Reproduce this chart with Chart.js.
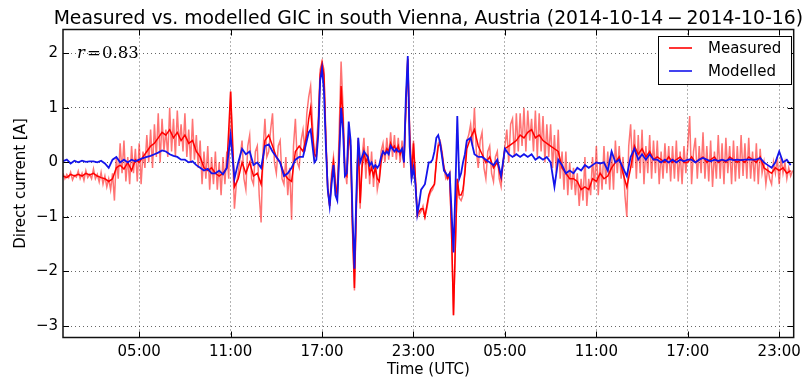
<!DOCTYPE html>
<html>
<head>
<meta charset="utf-8">
<script src="https://cdn.jsdelivr.net/npm/chart.js@4.4.1/dist/chart.umd.min.js"></script>
<style>
  html, body { margin: 0; background: #fff; }
  canvas { display: block; }
</style>
</head>
<body>
<canvas id="gic" width="807" height="382"></canvas>
<script>
// sampling grids (hours since 2014-10-14 00:00 UTC): [start, end, step]
const gridSegments = [[0, 15.75, 0.25], [16, 26.375, 0.125], [26.5, 47.75, 0.25]];
const rawGridSegments = [[0, 47.875, 0.125]];

const xTickHours = [5, 11, 17, 23, 29, 35, 41, 47];
const yTickValues = [-3, -2, -1, 0, 1, 2];

// smoothed measured GIC [A]
const measured = [
  -0.25,-0.28,-0.22,-0.25, -0.22,-0.25,-0.2,-0.23, -0.2,-0.25,-0.28,-0.3, -0.35,-0.3,-0.1,-0.05,
  -0.12,0.0,-0.15,0.05, 0.0,0.1,0.2,0.3, 0.35,0.45,0.55,0.5, 0.6,0.45,0.55,0.4,
  0.5,0.35,0.4,0.2, 0.1,-0.1,-0.15,-0.1, -0.2,-0.25,-0.2,-0.1, 1.3,-0.45,-0.3,0.0,
  -0.2,0.0,-0.25,-0.2, -0.4,0.4,0.5,0.3, 0.1,0.0,-0.2,-0.3, -0.35,0.2,0.3,0.2,
  // 16h - 26.375h
  0.5,0.8,1.0,0.5,0.15,0.1,0.6,1.6,
  1.82,1.6,0.4,-0.5,-0.8,-0.3,0.0,-0.4,
  -0.6,0.2,1.4,0.8,-0.2,-0.25,0.5,0.3,
  -1.2,-2.3,-0.8,0.4,-0.75,-0.1,0.2,0.0,
  0.1,-0.2,-0.1,-0.25,-0.1,-0.3,-0.35,0.0,
  0.2,0.15,0.25,0.2,0.35,0.25,0.3,0.2,
  0.3,0.15,0.25,0.0,1.0,1.9,0.5,-0.3,
  0.35,-0.3,-0.95,-0.9,-0.85,-0.85,-1.0,-0.8,
  -0.6,-0.5,-0.45,-0.4,0.0,0.3,0.35,0.15,
  -0.1,-0.2,-0.3,-0.2,-1.3,-2.8,-1.5,-0.3,
  -0.6,-0.6,-0.5,-0.2,
  // 26.5h - 47.75h
  0.25,0.45,0.6,0.3, 0.15,0.0,0.1,-0.1, 0.0,-0.3,0.25,0.3, 0.35,0.4,0.5,0.45,
  0.55,0.6,0.45,0.5, 0.4,0.35,0.3,0.25, 0.2,-0.1,-0.2,-0.3, -0.3,-0.35,-0.5,-0.45,
  -0.5,-0.3,-0.35,-0.2, -0.3,-0.25,-0.1,0.0, 0.1,-0.2,-0.45,-0.1, 0.3,0.15,0.25,0.1,
  0.2,0.05,0.1,0.05, 0.0,0.1,0.0,0.05, 0.1,0.0,0.0,0.1, 0.0,0.05,0.1,0.0,
  0.05,0.1,0.0,0.05, 0.0,0.1,0.05,0.0, 0.05,0.0,0.1,0.05, 0.0,0.1,-0.1,-0.15,
  -0.2,-0.1,-0.15,-0.1, -0.2,-0.15
];

// modelled GIC [A]
const modelled = [
  0.02,0.05,-0.02,0.03, 0.0,0.03,0.01,0.02, 0.02,0.0,0.03,-0.02, -0.1,0.05,0.1,0.0,
  0.05,0.0,0.05,0.02, 0.05,0.08,0.1,0.12, 0.15,0.18,0.22,0.2, 0.15,0.12,0.1,0.05,
  0.05,0.0,0.02,-0.05, -0.1,-0.15,-0.12,-0.2, -0.2,-0.15,-0.22,-0.1, 0.5,-0.3,0.0,0.25,
  0.15,0.2,-0.05,0.0, -0.1,0.3,0.33,0.2, 0.1,0.0,-0.25,-0.2, -0.1,0.05,0.1,0.1,
  0.4,0.55,0.6,0.3,0.0,0.05,0.5,1.5,
  1.72,1.3,0.3,-0.5,-0.8,-0.4,-0.05,-0.6,
  -0.7,0.1,1.0,0.6,-0.25,-0.2,0.75,0.4,
  -1.0,-1.95,-0.6,0.45,0.0,0.1,0.2,0.15,
  0.1,-0.05,0.0,-0.1,-0.05,-0.1,-0.05,0.1,
  0.2,0.15,0.2,0.15,0.3,0.25,0.2,0.25,
  0.2,0.2,0.25,0.0,1.2,1.95,0.3,-0.3,
  -0.1,-0.4,-0.95,-0.75,-0.5,-0.45,-0.4,-0.2,
  0.0,0.0,0.05,0.2,0.45,0.5,0.35,0.1,
  -0.15,-0.2,-0.25,-0.2,-0.9,-1.65,-0.5,0.85,
  -0.3,-0.2,0.0,0.15,
  0.4,0.45,0.15,0.1, 0.1,0.05,0.0,-0.05, 0.05,-0.25,0.25,0.15, 0.1,0.15,0.1,0.15,
  0.1,0.15,0.05,0.1, 0.05,0.1,0.0,-0.45, 0.05,-0.05,-0.2,-0.15, -0.2,-0.1,-0.15,-0.05,
  -0.1,-0.05,0.0,-0.02, 0.0,-0.15,0.2,0.0, 0.05,-0.1,-0.25,0.1, 0.25,0.05,0.15,0.05,
  0.15,0.05,0.05,0.0, 0.05,0.0,0.05,0.0, 0.05,0.02,0.05,0.05, 0.0,0.05,0.08,0.05,
  0.02,0.05,0.03,0.05, 0.03,0.06,0.04,0.05, 0.04,0.05,0.05,0.05, 0.05,0.08,0.0,-0.05,
  -0.1,0.0,0.2,0.0, 0.05,-0.05
];

// raw measured GIC [A], 7.5 min samples
const measuredRaw = [
  -0.2,-0.3,-0.22,-0.28,-0.18,-0.32,-0.24,-0.27,
  -0.16,-0.3,-0.2,-0.33,-0.15,-0.28,-0.22,-0.3,
  -0.12,-0.3,-0.22,-0.36,-0.18,-0.4,-0.25,-0.45,
  -0.3,-0.5,-0.2,-0.7,0.1,-0.3,0.35,-0.2,
  0.4,-0.35,0.1,-0.4,0.3,-0.2,0.25,-0.35,
  0.35,-0.4,0.2,-0.1,0.5,0.0,0.6,-0.1,
  0.7,0.1,0.9,0.0,0.8,0.2,0.6,0.1,
  1.0,0.2,0.8,0.1,0.95,0.3,0.7,0.2,
  0.9,0.1,0.6,0.0,0.8,0.05,0.5,-0.1,
  0.4,-0.4,0.2,-0.3,0.3,-0.5,0.1,-0.4,
  0.2,-0.5,0.0,-0.6,0.1,-0.4,0.2,-0.3,
  1.3,0.2,-0.85,-0.4,-0.2,0.1,0.4,-0.3,
  -0.5,0.3,0.5,-0.3,-0.4,0.2,0.3,-0.6,
  -1.1,0.2,0.8,0.1,0.2,0.6,0.9,0.0,
  -0.2,0.3,0.4,-0.3,-0.4,0.1,-0.6,-0.1,
  -1.05,0.3,0.8,0.0,-0.1,0.4,0.6,0.2,
  0.9,1.2,1.4,0.7,0.1,0.3,0.8,1.7,
  1.85,1.7,0.5,-0.5,-0.8,-0.2,0.1,-0.3,
  -0.65,0.6,1.85,1.0,-0.1,-0.4,0.5,0.2,
  -1.3,-2.35,-0.9,0.45,-0.85,0.1,0.45,-0.3,
  0.3,-0.4,0.2,-0.45,0.05,-0.5,-0.3,0.2,
  0.35,0.0,0.45,0.05,0.55,0.1,0.5,0.05,
  0.45,0.0,0.4,-0.1,1.0,1.9,0.6,-0.2,
  0.4,-0.3,-1.0,-0.95,-0.9,-0.8,-1.0,-0.85,
  -0.65,-0.55,-0.5,-0.4,0.05,0.35,0.4,0.2,
  -0.1,-0.3,-0.25,-0.3,-1.3,-2.8,-1.5,-0.3,
  -0.65,-0.7,-0.6,-0.1,0.4,0.5,0.7,0.3,
  1.0,0.2,-0.1,0.4,0.55,-0.1,-0.3,0.2,
  0.3,-0.2,-0.35,0.1,0.2,-0.3,-0.45,0.0,
  0.3,0.6,0.0,0.7,0.8,0.1,0.9,0.2,
  0.9,0.3,1.0,0.2,0.95,0.4,0.8,0.2,
  0.95,0.1,0.9,0.2,0.85,0.0,0.7,0.1,
  0.7,-0.1,0.5,-0.2,0.6,-0.3,0.2,-0.5,
  0.2,-0.6,0.0,-0.5,-0.1,-0.6,-0.2,-0.8,
  -0.3,-0.7,0.1,-0.8,-0.3,-0.6,0.1,-0.5,
  0.3,-0.6,0.0,-0.5,0.3,-0.4,0.2,-0.5,
  0.2,-0.5,0.4,-0.2,0.3,-0.3,0.1,-0.6,
  -1.0,0.3,0.7,-0.1,0.6,-0.3,0.5,-0.2,
  0.6,-0.4,0.3,-0.2,0.5,-0.3,0.4,-0.2,
  0.4,-0.4,0.2,-0.3,0.35,-0.2,0.3,-0.35,
  0.3,-0.3,0.4,-0.35,0.2,-0.4,0.3,-0.2,
  0.3,0.85,-0.4,0.2,0.45,-0.3,0.3,-0.2,
  0.55,-0.3,0.3,-0.35,0.4,-0.45,0.2,-0.3,
  0.5,-0.3,0.35,-0.4,0.45,-0.2,0.3,-0.4,
  0.4,-0.35,0.3,-0.3,0.5,-0.25,0.35,-0.3,
  0.45,-0.3,0.2,-0.35,0.35,-0.4,0.25,-0.2,
  0.0,-0.4,-0.1,-0.3,-0.4,0.0,-0.2,0.1,
  -0.4,0.1,-0.2,0.0,-0.3,-0.1,-0.25,-0.15
];

const buildGrid = (segments) => {
  const out = [];
  segments.forEach(([start, end, step]) => {
    for (let k = 0; start + k * step <= end + 1e-9; k++) out.push(start + k * step);
  });
  return out;
};
const hours = buildGrid(gridSegments);
const rawHours = buildGrid(rawGridSegments);
if (hours.length !== measured.length || hours.length !== modelled.length || rawHours.length !== measuredRaw.length) {
  console.error('length mismatch', hours.length, measured.length, modelled.length, rawHours.length, measuredRaw.length);
}

const toPoints = (values, xs) => values.map((v, i) => ({ x: xs[i], y: v }));
const fmtHour = (h) => String(h % 24).padStart(2, '0') + ':00';
const fmtNum = (v) => (v < 0 ? '\u2212' + Math.abs(v) : String(v));

Chart.defaults.font.family = '"DejaVu Sans", sans-serif';
Chart.defaults.color = '#000';

const decor = {
  id: 'decor',
  afterDraw(chart) {
    const { ctx, chartArea: a, scales: { x, y } } = chart;
    ctx.save();

    // inward ticks
    ctx.strokeStyle = '#000';
    ctx.lineWidth = 1;
    ctx.beginPath();
    xTickHours.forEach(h => {
      const px = Math.round(x.getPixelForValue(h)) + 0.5;
      ctx.moveTo(px, a.bottom); ctx.lineTo(px, a.bottom - 6);
      ctx.moveTo(px, a.top); ctx.lineTo(px, a.top + 6);
    });
    yTickValues.forEach(v => {
      const py = Math.round(y.getPixelForValue(v)) + 0.5;
      ctx.moveTo(a.left, py); ctx.lineTo(a.left + 6, py);
      ctx.moveTo(a.right, py); ctx.lineTo(a.right - 6, py);
    });
    ctx.stroke();

    // frame
    ctx.lineWidth = 1.5;
    ctx.strokeStyle = '#111';
    ctx.strokeRect(a.left, a.top, a.right - a.left, a.bottom - a.top);

    // title
    ctx.fillStyle = '#000';
    ctx.font = '18.8px "DejaVu Sans"';
    ctx.textAlign = 'center';
    ctx.textBaseline = 'alphabetic';
    ctx.fillText('Measured vs. modelled GIC in south Vienna, Austria (2014-10-14\u2009\u2212\u20092014-10-16)',
      (a.left + a.right) / 2, 24);

    // correlation note
    const ny = y.getPixelForValue(2);
    ctx.textAlign = 'left';
    ctx.textBaseline = 'middle';
    ctx.font = 'italic 16.5px "DejaVu Serif"';
    ctx.fillText('r', a.left + 14, ny);
    ctx.font = '16.5px "DejaVu Serif"';
    ctx.fillText('=', a.left + 24, ny);
    ctx.fillText('0.83', a.left + 39, ny + 0.5);

    // legend
    const lx = 658, ly = 36, lw = 133, lh = 48;
    ctx.fillStyle = '#fff';
    ctx.fillRect(lx, ly, lw, lh);
    ctx.lineWidth = 1;
    ctx.strokeStyle = '#000';
    ctx.strokeRect(lx + 0.5, ly + 0.5, lw, lh);
    const items = [
      { text: 'Measured', color: chart.data.datasets[1].borderColor, dy: 12 },
      { text: 'Modelled', color: chart.data.datasets[0].borderColor, dy: 35 }
    ];
    ctx.font = '15px "DejaVu Sans"';
    items.forEach(it => {
      ctx.strokeStyle = it.color;
      ctx.lineWidth = 1.6;
      ctx.beginPath();
      ctx.moveTo(lx + 11, ly + it.dy); ctx.lineTo(lx + 34, ly + it.dy);
      ctx.stroke();
      ctx.fillStyle = '#000';
      ctx.fillText(it.text, lx + 50, ly + it.dy + 1);
    });
    ctx.restore();
  }
};

new Chart(document.getElementById('gic'), {
  type: 'line',
  data: {
    datasets: [
      {
        label: 'Modelled',
        data: toPoints(modelled, hours),
        borderColor: 'rgb(20,20,235)',
        borderWidth: 1.8,
        order: 0
      },
      {
        label: 'Measured',
        data: toPoints(measured, hours),
        borderColor: 'rgb(255,0,0)',
        borderWidth: 1.5,
        order: 1
      },
      {
        label: 'Measured (raw)',
        data: toPoints(measuredRaw, rawHours),
        borderColor: 'rgba(255,0,0,0.55)',
        borderWidth: 1.5,
        order: 2
      }
    ]
  },
  options: {
    responsive: false,
    animation: false,
    events: [],
    elements: { point: { radius: 0 }, line: { tension: 0 } },
    layout: { padding: { top: 29.5, right: 9, left: 0, bottom: 0 } },
    plugins: {
      legend: { display: false },
      tooltip: { enabled: false },
      title: { display: false }
    },
    scales: {
      x: {
        type: 'linear',
        min: 0,
        max: 47.95,
        afterBuildTicks: (s) => { s.ticks = xTickHours.map(v => ({ value: v })); },
        afterFit: (s) => { s.height = 44.5; },
        ticks: {
          callback: (v) => fmtHour(v),
          font: { size: 15 },
          color: '#000',
          padding: 6,
          maxRotation: 0,
          autoSkip: false
        },
        grid: { color: 'rgba(0,0,0,0.6)', lineWidth: 1, drawTicks: false },
        border: { display: false, dash: [1, 3] },
        title: { display: true, text: 'Time (UTC)', font: { size: 15 }, color: '#000', padding: { top: 0, bottom: 3 } }
      },
      y: {
        type: 'linear',
        min: -3.21,
        max: 2.436,
        afterBuildTicks: (s) => { s.ticks = yTickValues.map(v => ({ value: v })); },
        afterFit: (s) => { s.width = 63; },
        ticks: {
          callback: (v) => fmtNum(v),
          font: { size: 15 },
          color: '#000',
          padding: 5
        },
        grid: { color: 'rgba(0,0,0,0.6)', lineWidth: 1, drawTicks: false },
        border: { display: false, dash: [1, 3] },
        title: { display: true, text: 'Direct current [A]', font: { size: 15 }, color: '#000', padding: { top: 12, bottom: 0 } }
      }
    }
  },
  plugins: [decor]
});
</script>
</body>
</html>
